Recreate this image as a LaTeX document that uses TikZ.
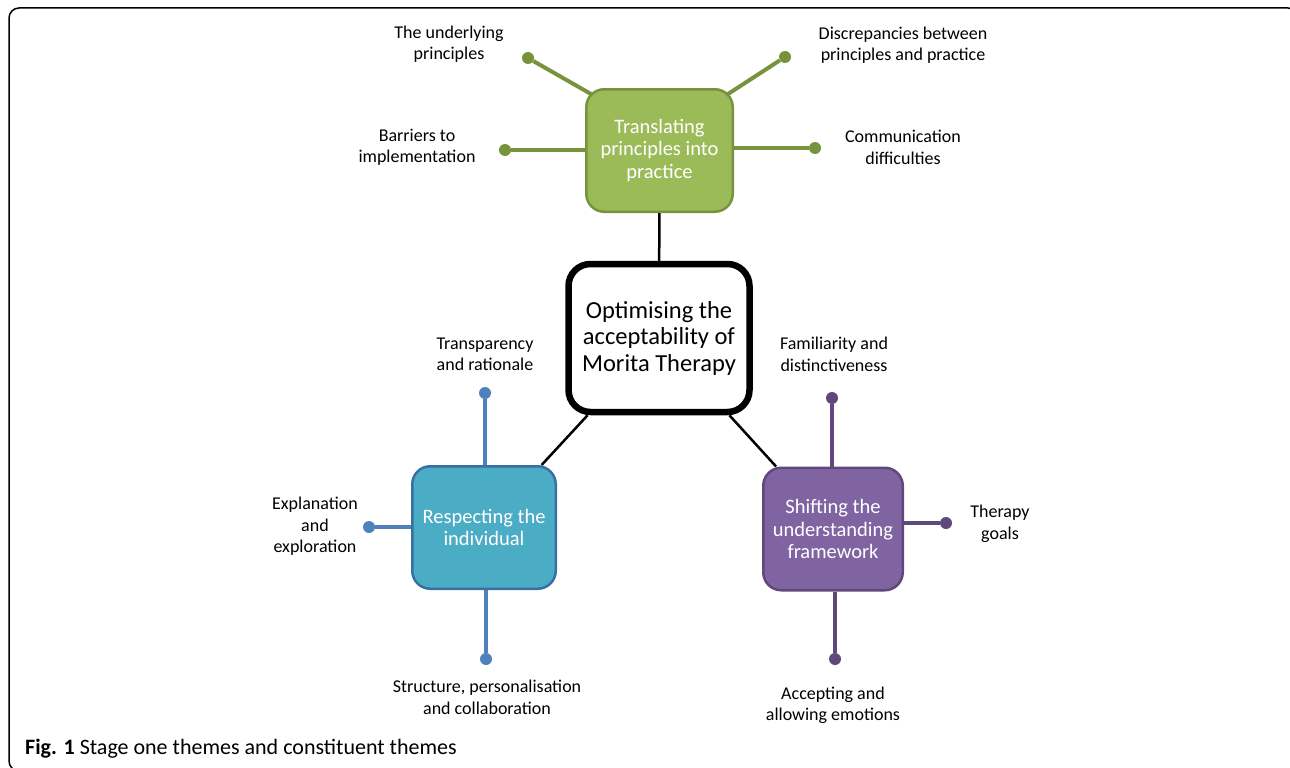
\documentclass[tikz,border=0pt]{standalone}
\usepackage{fontspec}
\setmainfont{Carlito}
\usetikzlibrary{backgrounds,calc}

\definecolor{practiceFill}{HTML}{9BBB59}
\definecolor{practiceLine}{HTML}{77933C}
\definecolor{personFill}{HTML}{4BACC6}
\definecolor{personEdge}{HTML}{3A6FA3}
\definecolor{personLine}{HTML}{4F81BD}
\definecolor{frameworkFill}{HTML}{8064A2}
\definecolor{frameworkLine}{HTML}{5F497A}

\begin{document}
\begin{tikzpicture}[
    x = 1pt, y = -1pt,
    core/.style = {draw, fill = white,
      line width = 6.5pt, rounded corners = 22pt,
      align = center,
      font = \fontsize{24.5}{26.5}\selectfont,
      minimum width = 181pt, minimum height = 148pt},
    theme/.style = {draw, line width = 2.5pt, rounded corners = 18pt,
      text = white, align = center,
      font = \fontsize{20.5}{22.5}\selectfont,
      minimum height = 122.5pt},
    subtheme/.style = {align = center, inner sep = 0pt,
      font = \fontsize{18}{21.5}\selectfont},
    endpoint/.style = {circle, inner sep = 0pt, minimum size = 12pt},
    spoke/.style = {line width = 4pt},
    link/.style = {line width = 2.5pt},
    ]

    \useasboundingbox (0, 0) rectangle (1290, 768);
    \clip (0, 0) rectangle (1290, 768);
    \draw [line width = 1.5pt, rounded corners = 10pt]
    (9, 8) rectangle (1298, 771);

    \node at (659, 338)
    [core, name = core] {Optimising the\\acceptability of\\Morita Therapy};

    \node at (659.5, 150.5)
    [theme, fill = practiceFill, draw = practiceLine,
      minimum width = 146.5pt, name = T_trans]
    {Translating\\principles into\\practice};
    \node at (484, 527.5)
    [theme, fill = personFill, draw = personEdge,
      minimum width = 143.5pt, name = T_resp]
    {Respecting the\\individual};
    \node at (833, 529)
    [theme, fill = frameworkFill, draw = frameworkLine,
      minimum width = 139.5pt, name = T_shift]
    {Shifting the\\understanding\\framework};

    \node at (528, 58) [endpoint, fill = practiceLine, name = d_under] {};
    \node at (785, 57) [endpoint, fill = practiceLine, name = d_discr] {};
    \node at (505, 150) [endpoint, fill = practiceLine, name = d_barr] {};
    \node at (815, 148) [endpoint, fill = practiceLine, name = d_comm] {};

    \node at (485, 393) [endpoint, fill = personLine, name = d_transp] {};
    \node at (369, 527) [endpoint, fill = personLine, name = d_expl] {};
    \node at (486, 659) [endpoint, fill = personLine, name = d_struct] {};

    \node at (832, 398) [endpoint, fill = frameworkLine, name = d_famil] {};
    \node at (946, 523) [endpoint, fill = frameworkLine, name = d_goals] {};
    \node at (835, 659) [endpoint, fill = frameworkLine, name = d_accept] {};

    \node at (449, 44) [subtheme, name = l_under]
    {The underlying\\principles};
    \node at (903, 45) [subtheme, name = l_discr]
    {Discrepancies between\\principles and practice};
    \node at (417, 147.5) [subtheme, name = l_barr]
    {Barriers to\\implementation};
    \node at (903, 147.5) [subtheme, name = l_comm]
    {Communication\\difficulties};

    \node at (485, 354.5) [subtheme, name = l_transp]
    {Transparency\\and rationale};
    \node at (315, 526.5) [subtheme, name = l_expl]
    {Explanation\\and\\exploration};
    \node at (487, 697.5) [subtheme, name = l_struct]
    {Structure, personalisation\\and collaboration};

    \node at (834, 354.5) [subtheme, name = l_famil]
    {Familiarity and\\distinctiveness};
    \node at (1000, 524) [subtheme, name = l_goals]
    {Therapy\\goals};
    \node at (833, 705.5) [subtheme, name = l_accept]
    {Accepting and\\allowing emotions};

    \begin{scope}[on background layer]
      \draw [link] (core) to (T_trans);
      \draw [link] (core) to (T_resp);
      \draw [link] (core) to (T_shift);

      \draw [spoke, practiceLine] (d_under) to ($(T_trans.north west) + (6, 6)$);
      \draw [spoke, practiceLine] (d_discr) to ($(T_trans.north east) + (-6, 6)$);
      \draw [spoke, practiceLine] (d_barr) to (d_barr -| T_trans.west);
      \draw [spoke, practiceLine] (d_comm) to (d_comm -| T_trans.east);

      \draw [spoke, personLine] (d_transp) to (d_transp |- T_resp.north);
      \draw [spoke, personLine] (d_expl) to (d_expl -| T_resp.west);
      \draw [spoke, personLine] (d_struct) to (d_struct |- T_resp.south);

      \draw [spoke, frameworkLine] (d_famil) to (d_famil |- T_shift.north);
      \draw [spoke, frameworkLine] (d_goals) to (d_goals -| T_shift.east);
      \draw [spoke, frameworkLine] (d_accept) to (d_accept |- T_shift.south);
    \end{scope}

    \node at (25, 748.5)
    [anchor = west, inner sep = 0pt,
      font = \fontsize{22}{24}\selectfont, name = caption]
    {\textbf{Fig. 1} Stage one themes and constituent themes};
  \end{tikzpicture}
\end{document}
